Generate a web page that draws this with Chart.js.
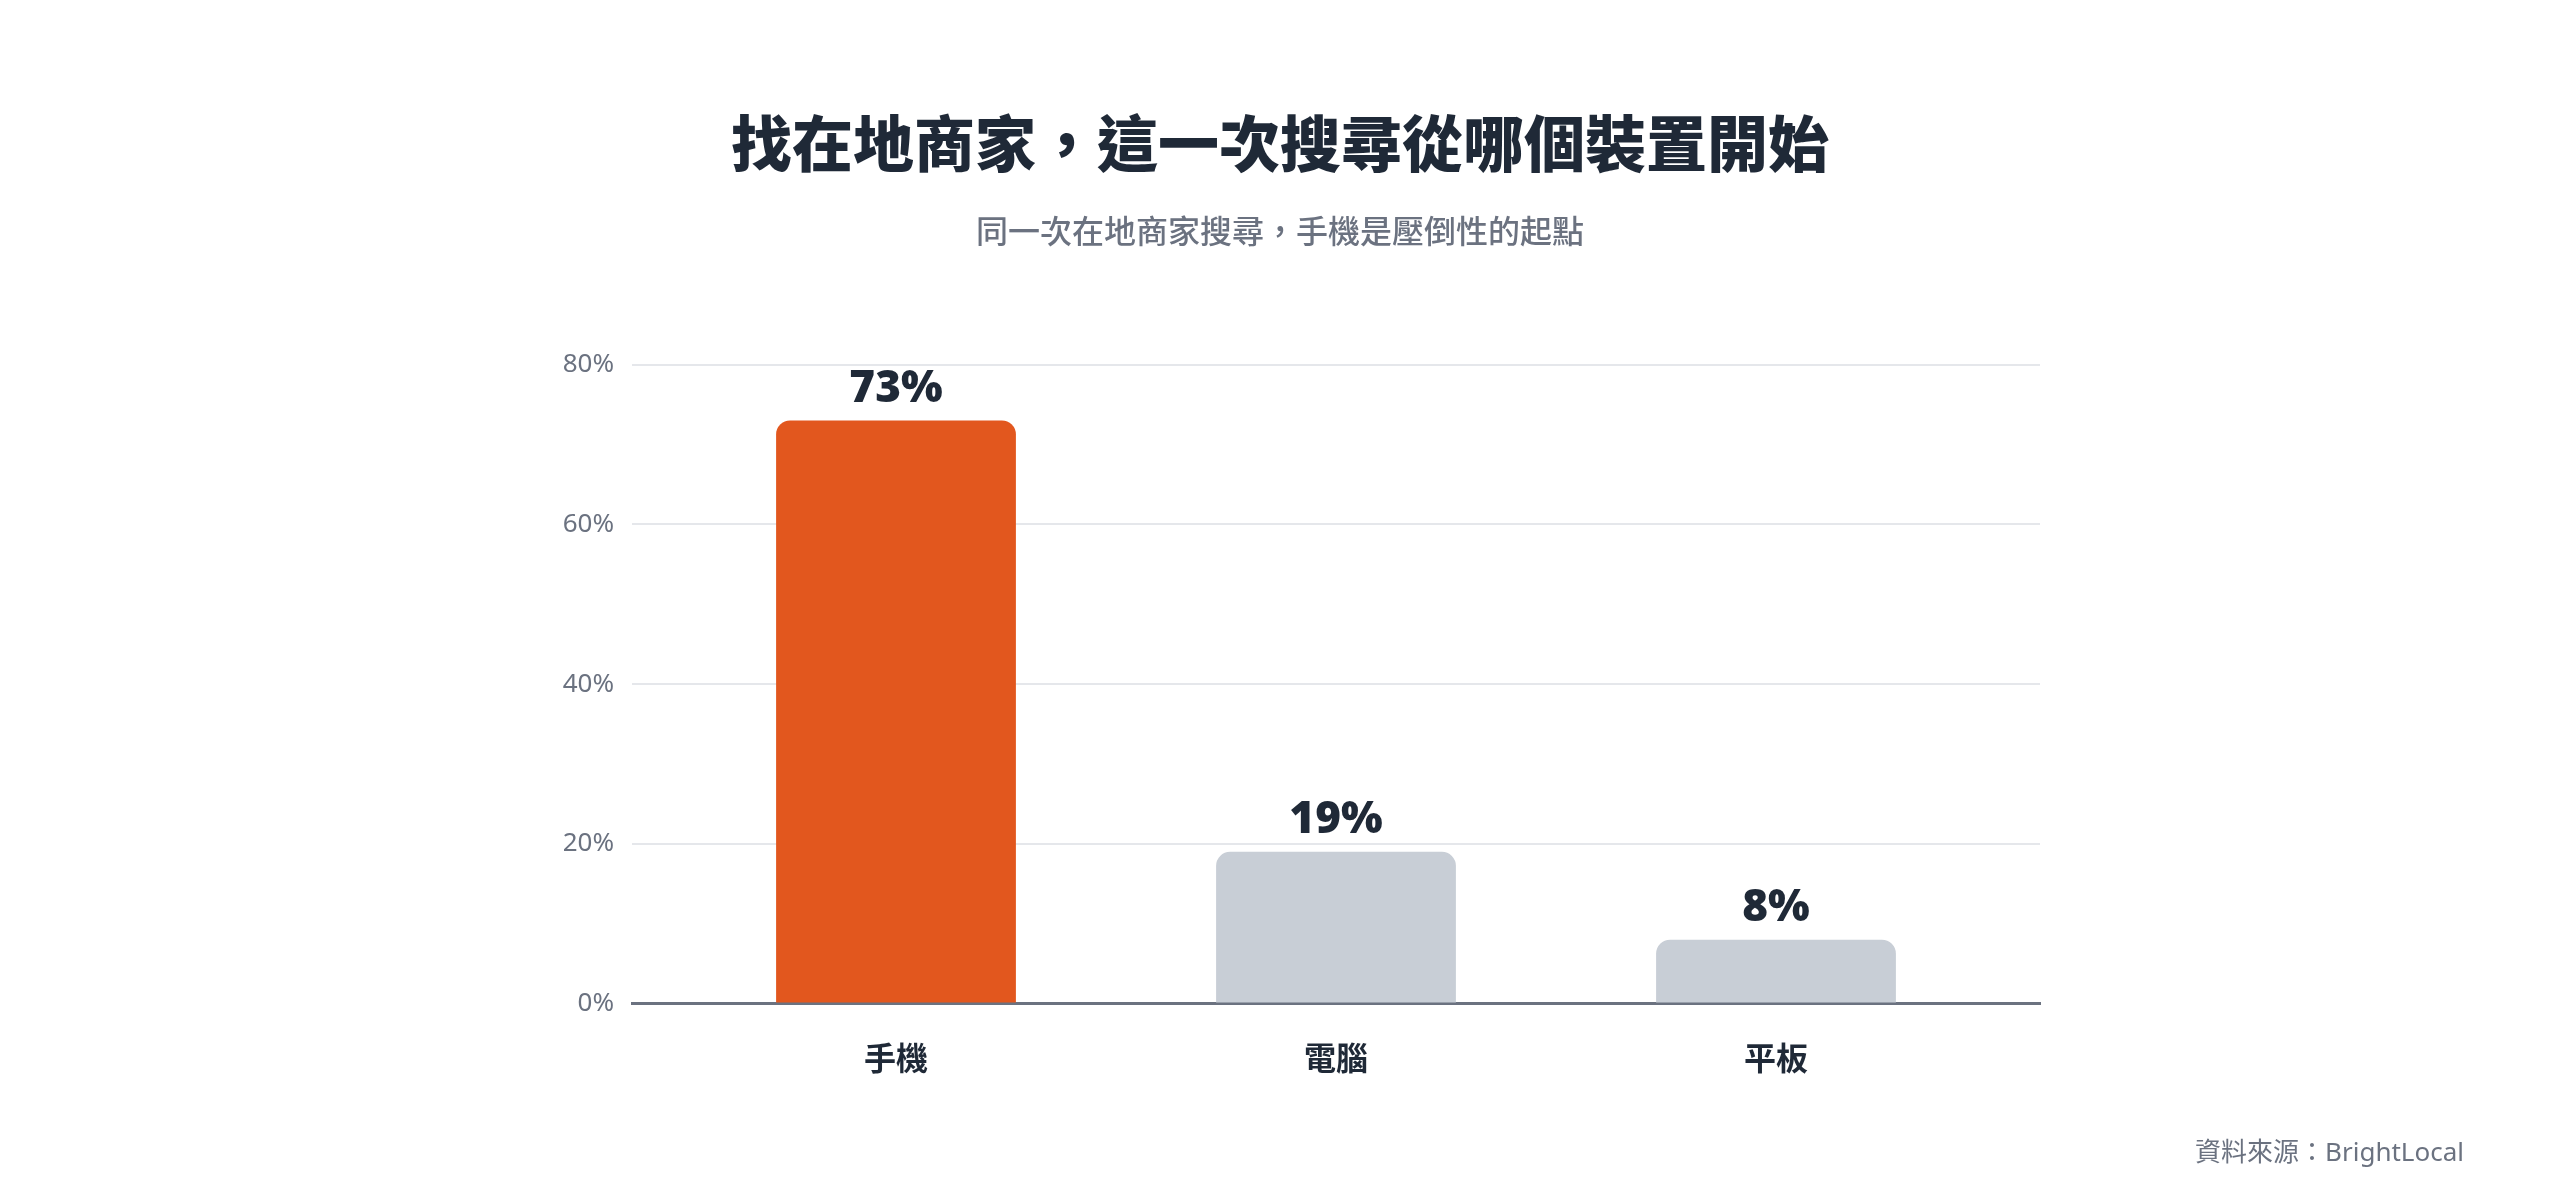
<!DOCTYPE html>
<html>
<head>
<meta charset="utf-8">
<script src="https://cdn.jsdelivr.net/npm/chart.js@4/dist/chart.umd.min.js"></script>
<style>
  html, body { margin: 0; padding: 0; background: #ffffff; }
  #wrap { position: relative; width: 2560px; height: 1193px; }
  #source {
    position: absolute; right: 96px; top: 1134px;
    font-family: "Noto Sans", "Noto Sans CJK TC", sans-serif;
    font-size: 26px; color: #6b7280; line-height: 34px;
  }
</style>
</head>
<body>
<div id="wrap">
  <canvas id="chart" width="2560" height="1193"></canvas>
  <div id="source">資料來源：BrightLocal</div>
</div>
<script>
// data
const categories = ["手機", "電腦", "平板"];
const shares = [73, 19, 8];
const barColors = ["#E2571E", "#C8CED6", "#C8CED6"];
const yTicks = [0, 20, 40, 60, 80];

const dark = "#1f2937";
const grey = "#6b7280";

// values written above each bar
const valueLabels = {
  id: "valueLabels",
  afterDatasetsDraw(chart) {
    const ctx = chart.ctx;
    const meta = chart.getDatasetMeta(0);
    ctx.save();
    ctx.font = "900 44px 'Noto Sans', sans-serif";
    ctx.fillStyle = dark;
    ctx.textAlign = "center";
    ctx.textBaseline = "alphabetic";
    meta.data.forEach((bar, i) => {
      ctx.fillText(shares[i] + "%", bar.x, bar.y - 19);
    });
    ctx.restore();
  }
};

new Chart(document.getElementById("chart"), {
  type: "bar",
  plugins: [valueLabels],
  data: {
    datasets: [{
      data: shares.map((v, i) => ({ x: i, y: v })),
      backgroundColor: barColors,
      borderRadius: { topLeft: 14, topRight: 14 },
      borderSkipped: "start",
      categoryPercentage: 1,
      barPercentage: 0.545
    }]
  },
  options: {
    responsive: false,
    animation: false,
    layout: { padding: { left: 520, right: 520, top: 0, bottom: 81 } },
    plugins: {
      legend: { display: false },
      tooltip: { enabled: false },
      title: {
        display: true,
        text: "找在地商家，這一次搜尋從哪個裝置開始",
        color: dark,
        font: { family: "'Noto Sans CJK TC', sans-serif", size: 61, weight: 900 },
        padding: { top: 107, bottom: 0 }
      },
      subtitle: {
        display: true,
        text: "同一次在地商家搜尋，手機是壓倒性的起點",
        color: grey,
        font: { family: "'Noto Sans CJK TC', sans-serif", size: 32, weight: 500 },
        padding: { top: 31, bottom: 115 }
      }
    },
    scales: {
      x: {
        type: "linear",
        offset: false,
        min: -0.6,
        max: 2.6,
        afterBuildTicks: s => { s.ticks = categories.map((_, i) => ({ value: i })); },
        grid: { display: false, drawTicks: false },
        border: { display: true, color: grey, width: 3 },
        ticks: {
          callback: v => categories[v],
          color: dark,
          padding: 35,
          maxRotation: 0,
          autoSkip: false,
          font: { family: "'Noto Sans CJK TC', sans-serif", size: 32, weight: "bold" }
        }
      },
      y: {
        min: 0,
        max: 80,
        afterBuildTicks: s => { s.ticks = yTicks.map(v => ({ value: v })); },
        afterFit: s => { s.width = 112; },
        grid: {
          drawTicks: false,
          lineWidth: 2,
          color: c => (c.tick && c.tick.value === 0 ? "rgba(0,0,0,0)" : "#e5e7eb")
        },
        border: { display: false },
        ticks: {
          callback: v => v + "%",
          color: grey,
          padding: 18,
          font: { family: "'Noto Sans', sans-serif", size: 26 }
        }
      }
    }
  }
});
</script>
</body>
</html>
